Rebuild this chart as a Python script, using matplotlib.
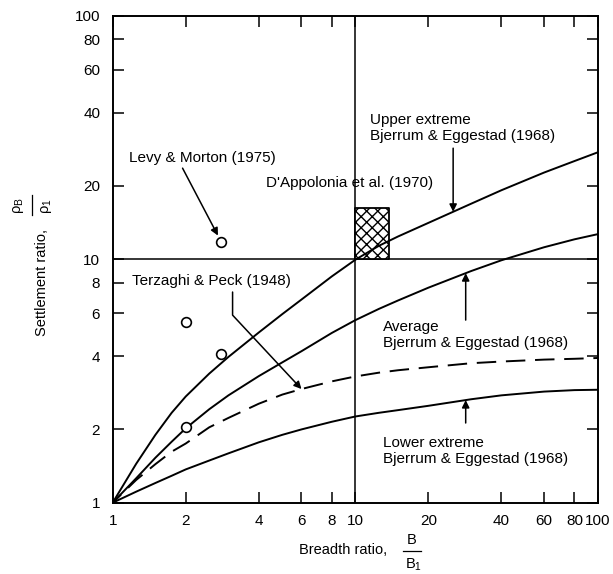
import numpy as np
import matplotlib
matplotlib.use("Agg")
import matplotlib.pyplot as plt
from matplotlib.ticker import NullLocator

plt.rcParams.update({
    "font.family": "Liberation Sans", "font.size": 11,
    "mathtext.fontset": "custom", "mathtext.rm": "Liberation Sans",
    "mathtext.it": "Liberation Sans:italic", "mathtext.bf": "Liberation Sans:bold",
    "hatch.linewidth": 1.0,
})

# breadth ratio B/B1 at which the curves were read
b_ratio = [1, 1.25, 1.5, 1.75, 2, 2.5, 3, 4, 5, 6, 8, 10, 12.5, 15, 20, 30, 40, 60, 80, 100]
upper_be = [1.0, 1.445, 1.90, 2.34, 2.73, 3.39, 3.97, 5.0, 5.95, 6.83, 8.5, 9.95, 11.35,
            12.4, 14.1, 16.9, 19.2, 22.7, 25.3, 27.5]
avg_be = [1.0, 1.26, 1.53, 1.78, 2.02, 2.42, 2.76, 3.31, 3.77, 4.19, 4.98, 5.62, 6.25,
          6.77, 7.64, 8.94, 9.9, 11.2, 12.07, 12.68]
lower_be = [1.0, 1.11, 1.205, 1.29, 1.37, 1.49, 1.595, 1.77, 1.9, 2.0, 2.15, 2.26, 2.34,
            2.40, 2.50, 2.66, 2.76, 2.86, 2.90, 2.91]
terzaghi = [1.0, 1.24, 1.44, 1.62, 1.75, 2.04, 2.23, 2.55, 2.78, 2.93, 3.15, 3.3, 3.42,
            3.5, 3.6, 3.74, 3.8, 3.87, 3.9, 3.93]

# field observations
obs_b = [2, 2, 2.8]
obs_ratio = [5.5, 2.05, 4.1]
levy_b = [2.8]
levy_ratio = [11.8]

# D'Appolonia et al. range
dapp_b = [10, 13.8]
dapp_ratio = [10, 16.2]

ticks = [1, 2, 4, 6, 8, 10, 20, 40, 60, 80, 100]


def on_curve(x, ys):
    return 10 ** np.interp(np.log10(x), np.log10(b_ratio), np.log10(ys))


fig = plt.figure(figsize=(6.13, 5.74), dpi=100)
ax = fig.add_axes([0.1838, 0.1242, 0.7917, 0.8484])
ax.set_xscale("log"); ax.set_yscale("log")
ax.set_xlim(1, 100); ax.set_ylim(1, 100)

ax.axvline(10, color="k", lw=1.1, zorder=1)
ax.axhline(10, color="k", lw=1.1, zorder=1)

for ys in (upper_be, avg_be, lower_be):
    ax.plot(b_ratio, ys, color="k", lw=1.4, zorder=3)
ax.plot(b_ratio, terzaghi, color="k", lw=1.4, ls=(4, (10, 5)), zorder=3)

ax.fill_between(dapp_b, dapp_ratio[0], dapp_ratio[1], facecolor="white",
                edgecolor="k", hatch="xxx", lw=1.3, zorder=2)

ax.plot(obs_b + levy_b, obs_ratio + levy_ratio, "o", ms=7, mfc="white",
        mec="k", mew=1.2, zorder=4)

arrow = dict(arrowstyle="-|>", color="k", lw=1.1, mutation_scale=11,
             shrinkA=0, shrinkB=0)

ax.text(0.034, 0.708, "Levy & Morton (1975)", transform=ax.transAxes, va="center")
ax.annotate("", xy=(levy_b[0], levy_ratio[0]), xytext=(0.144, 0.687),
            textcoords="axes fraction", arrowprops=dict(arrow, shrinkB=5))

ax.text(0.315, 0.6565, "D'Appolonia et al. (1970)", transform=ax.transAxes, va="center")

ax.text(0.530, 0.770, "Upper extreme\nBjerrum & Eggestad (1968)",
        transform=ax.transAxes, va="center")
ax.annotate("", xy=(25.3, on_curve(25.3, upper_be)), xytext=(25.3, 0.728),
            textcoords=("data", "axes fraction"), arrowprops=arrow)

ax.text(0.040, 0.455, "Terzaghi & Peck (1948)", transform=ax.transAxes, va="center")
ax.annotate("", xy=(6.0, on_curve(6.0, terzaghi)), xytext=(3.12, 0.4326),
            textcoords=("data", "axes fraction"),
            arrowprops=dict(arrow, connectionstyle="angle,angleA=90,angleB=-47,rad=0"))

ax.text(0.557, 0.3444, "Average\nBjerrum & Eggestad (1968)",
        transform=ax.transAxes, va="center")
ax.annotate("", xy=(28.5, on_curve(28.5, avg_be)), xytext=(28.5, 0.375),
            textcoords=("data", "axes fraction"), arrowprops=arrow)

ax.text(0.557, 0.1058, "Lower extreme\nBjerrum & Eggestad (1968)",
        transform=ax.transAxes, va="center")
ax.annotate("", xy=(28.5, on_curve(28.5, lower_be)), xytext=(28.5, 0.1637),
            textcoords=("data", "axes fraction"), arrowprops=arrow)

ax.set_xticks(ticks); ax.set_xticklabels([str(t) for t in ticks])
ax.set_yticks(ticks); ax.set_yticklabels([str(t) for t in ticks])
ax.xaxis.set_minor_locator(NullLocator())
ax.yaxis.set_minor_locator(NullLocator())
ax.tick_params(direction="in", length=8, width=1.1, top=True, right=True,
               labelsize=11)
ax.tick_params(axis="x", pad=8)
ax.tick_params(axis="y", pad=9)
for s in ax.spines.values():
    s.set_linewidth(1.4)

# axis titles: words followed by a stacked fraction built from separate texts
lab = dict(transform=ax.transAxes, fontsize=10.5, clip_on=False)
ax.text(0.384, -0.097, "Breadth ratio,", ha="left", va="center", **lab)
ax.text(0.617, -0.0766, "B", ha="center", va="center", **lab)
ax.text(0.619, -0.128, r"B$_1$", ha="center", va="center", **lab)
ax.plot([0.598, 0.636], [-0.0995, -0.0995], color="k", lw=0.9,
        transform=ax.transAxes, clip_on=False)

ax.text(-0.146, 0.4527, "Settlement ratio,", ha="center", va="center", rotation=90, **lab)
ax.text(-0.195, 0.611, r"$\mathrm{\rho}_\mathrm{B}$", ha="center", va="center",
        rotation=90, **lab)
ax.text(-0.137, 0.609, r"$\mathrm{\rho}_1$", ha="center", va="center",
        rotation=90, **lab)
ax.plot([-0.166, -0.166], [0.591, 0.632], color="k", lw=0.9,
        transform=ax.transAxes, clip_on=False)

fig.savefig("out.png", dpi=100)
